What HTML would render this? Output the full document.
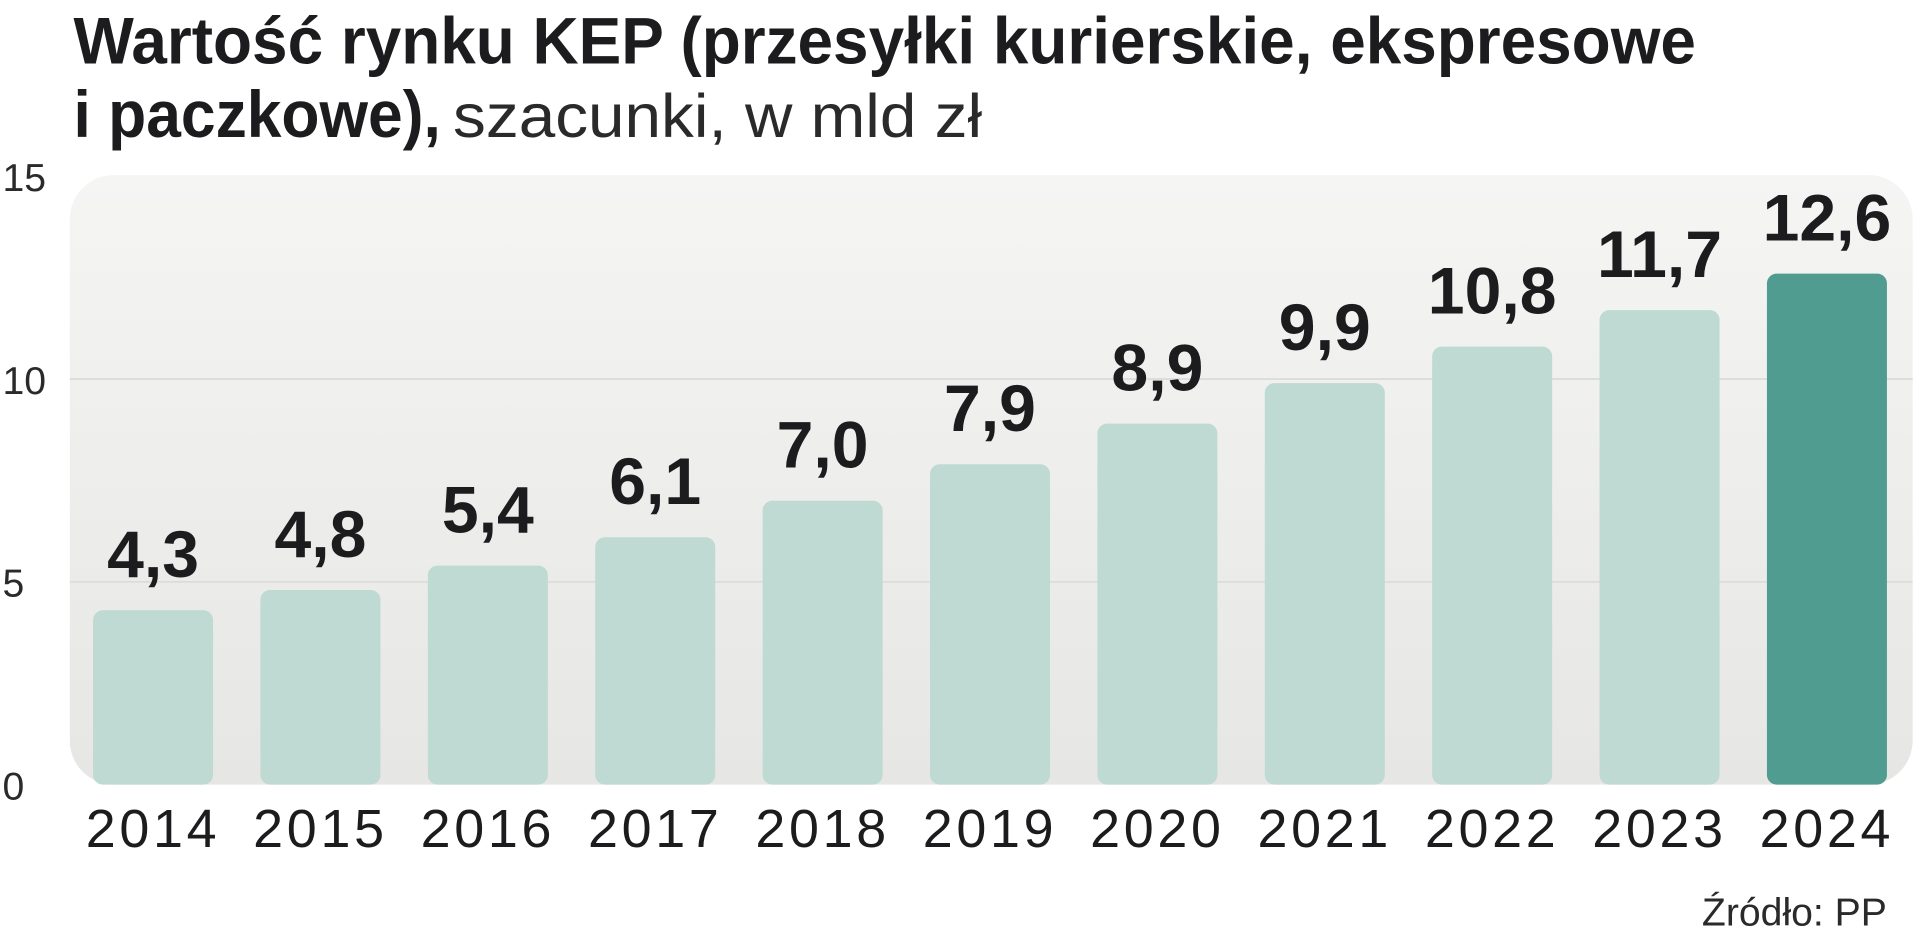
<!DOCTYPE html>
<html><head><meta charset="utf-8"><style>
html,body{margin:0;padding:0;background:#fff;}
svg{display:block;}
</style></head><body>
<svg width="1920" height="934" viewBox="0 0 1568 763" preserveAspectRatio="none" xmlns="http://www.w3.org/2000/svg">
<defs>
<linearGradient id="bg" x1="0" y1="0" x2="0" y2="1">
<stop offset="0" stop-color="#f5f5f4"/><stop offset="1" stop-color="#e6e6e4"/>
</linearGradient>
</defs>
<text x="60" y="52" font-family="'Liberation Sans Narrow','Liberation Sans',sans-serif" font-weight="bold" font-size="54" fill="#1c1c1e" textLength="1325" lengthAdjust="spacingAndGlyphs">Wartość rynku KEP (przesyłki kurierskie, ekspresowe</text>
<text x="60" y="112" font-family="'Liberation Sans Narrow','Liberation Sans',sans-serif" font-weight="bold" font-size="54" fill="#1c1c1e" textLength="300" lengthAdjust="spacingAndGlyphs">i paczkowe),</text>
<text x="370" y="112" font-family="'Liberation Sans',sans-serif" font-size="50" fill="#2a2a2a" textLength="432" lengthAdjust="spacingAndGlyphs">szacunki, w mld zł</text>
<rect x="57" y="143" width="1505" height="498" rx="36" fill="url(#bg)"/>
<g id="grid"></g>
<g id="bars"></g>
<g id="labels"></g>
<text x="1541" y="756" text-anchor="end" font-family="'Liberation Sans',sans-serif" font-size="32" fill="#2a2a2a">Źródło: PP</text>
</svg>
<script>
const categories = ["2014","2015","2016","2017","2018","2019","2020","2021","2022","2023","2024"];
const values = [4.3,4.8,5.4,6.1,7.0,7.9,8.9,9.9,10.8,11.7,12.6];
const valueLabels = ["4,3","4,8","5,4","6,1","7,0","7,9","8,9","9,9","10,8","11,7","12,6"];
const yTicks = [0,5,10,15];
const NS = "http://www.w3.org/2000/svg";
const y = v => 641 - v * (641 - 144) / 15;
const x = i => 76 + i * 136.7;
const bw = 98;
function mk(tag, attrs, parent){const e=document.createElementNS(NS,tag);for(const k in attrs)e.setAttribute(k,attrs[k]);parent.appendChild(e);return e;}
const grid=document.getElementById('grid'), bars=document.getElementById('bars'), labels=document.getElementById('labels');
yTicks.forEach(t=>{
  if(t>0&&t<15){const l=mk('line',{x1:57,x2:1562,y1:y(t),y2:y(t),stroke:'#dcdcda','stroke-width':1.5},grid);
  
  }
  const tx=mk('text',{x:2,y:y(t)+12,'font-family':"'Liberation Sans',sans-serif",'font-size':32,fill:'#2a2a2a'},labels);
  tx.textContent=String(t);
  
  
});
values.forEach((v,i)=>{
  const last=i===values.length-1;
  const r=mk('rect',{x:x(i),y:y(v),width:bw,height:641-y(v),rx:8,fill:last?'#519c90':'#bfd9d3'},bars);
  
  
  const vl=mk('text',{x:x(i)+bw/2,y:y(v)-27,'text-anchor':'middle','font-family':"'Liberation Sans Narrow','Liberation Sans',sans-serif",'font-weight':'bold','font-size':54,fill:'#1c1c1e'},labels);
  vl.textContent=valueLabels[i];
  
  
  const cl=mk('text',{x:x(i)+bw/2,y:692,'text-anchor':'middle','font-family':"'Liberation Sans',sans-serif",'font-size':44,'letter-spacing':3,fill:'#1c1c1e'},labels);
  cl.textContent=categories[i];
  
  
});
</script>
</body></html>
